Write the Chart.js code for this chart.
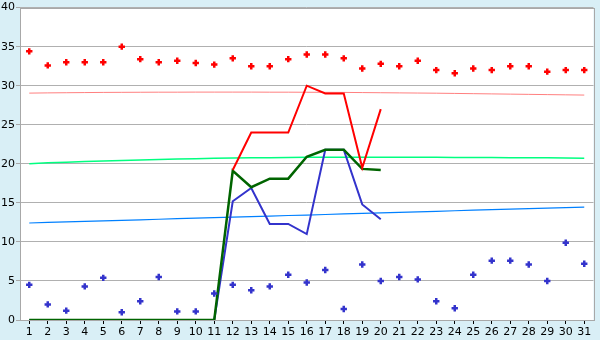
<!DOCTYPE html>
<html>
<head>
<meta charset="utf-8">
<script src="https://cdn.jsdelivr.net/npm/chart.js@4"></script>
<style>
  html, body { margin: 0; padding: 0; background: #d9eff6; }
  #wrap { width: 600px; height: 340px; }
</style>
</head>
<body>
<div id="wrap"><canvas id="chart" width="600" height="340"></canvas></div>
<script>
// ---------- data ----------
const days = ['1','2','3','4','5','6','7','8','9','10','11','12','13','14','15','16',
  '17','18','19','20','21','22','23','24','25','26','27','28','29','30','31'];

const maxPoints = [34.4, 32.6, 33.0, 33.0, 33.0, 35.0, 33.4, 33.0, 33.2, 32.9, 32.7, 33.5, 32.5, 32.5, 33.4, 34.0,
  34.0, 33.5, 32.2, 32.8, 32.5, 33.2, 32.0, 31.6, 32.2, 32.0, 32.5, 32.5, 31.8, 32.0, 32.0];

const minPoints = [4.5, 2.0, 1.2, 4.3, 5.4, 1.0, 2.4, 5.5, 1.1, 1.1, 3.4, 4.5, 3.8, 4.3, 5.8, 4.8,
  6.4, 1.4, 7.1, 5.0, 5.5, 5.2, 2.4, 1.5, 5.8, 7.6, 7.6, 7.1, 5.0, 9.9, 7.2];

const redLine = [null, null, null, null, null, null, null, null, null, null, null, 19.2, 24, 24, 24, 30,
  29, 29, 19.5, 27, null, null, null, null, null, null, null, null, null, null, null];

const greenLine = [0, 0, 0, 0, 0, 0, 0, 0, 0, 0, 0, 19.1, 17, 18.1, 18.1, 20.9,
  21.8, 21.8, 19.35, 19.2, null, null, null, null, null, null, null, null, null, null, null];

const blueLine = [0, 0, 0, 0, 0, 0, 0, 0, 0, 0, 0, 15.2, 16.9, 12.3, 12.3, 11.0,
  21.8, 21.8, 14.8, 12.9, null, null, null, null, null, null, null, null, null, null, null];

const maxTrend = [29.05, 29.08, 29.1, 29.12, 29.14, 29.15, 29.16, 29.17, 29.17, 29.18, 29.18, 29.18, 29.18, 29.17, 29.17, 29.16,
  29.15, 29.14, 29.12, 29.1, 29.08, 29.06, 29.04, 29.01, 28.98, 28.95, 28.92, 28.89, 28.86, 28.83, 28.8];

const midTrend = [20.02, 20.12, 20.2, 20.28, 20.36, 20.42, 20.48, 20.54, 20.6, 20.66, 20.7, 20.74, 20.77, 20.79, 20.81, 20.83,
  20.84, 20.85, 20.85, 20.85, 20.85, 20.84, 20.83, 20.82, 20.81, 20.8, 20.79, 20.78, 20.77, 20.75, 20.72];

const minTrend = [12.42, 12.49, 12.56, 12.63, 12.7, 12.76, 12.83, 12.9, 12.97, 13.04, 13.1, 13.17, 13.24, 13.31, 13.38, 13.44,
  13.51, 13.58, 13.65, 13.72, 13.78, 13.85, 13.92, 13.99, 14.06, 14.12, 14.19, 14.26, 14.33, 14.4, 14.46];

const yTicks = [0, 5, 10, 15, 20, 25, 30, 35, 40];

// white plot area + grey frame
const plotFrame = {
  id: 'plotFrame',
  beforeDraw(chart) {
    const { ctx, chartArea: a } = chart;
    ctx.save();
    ctx.fillStyle = '#ffffff';
    ctx.fillRect(a.left, a.top, a.right - a.left, a.bottom - a.top);
    ctx.restore();
  },
  afterDraw(chart) {
    const { ctx, chartArea: a } = chart;
    ctx.save();
    ctx.strokeStyle = '#a8a8a8';
    ctx.lineWidth = 1;
    ctx.strokeRect(Math.round(a.left) + 0.5, Math.round(a.top) + 0.5,
      Math.round(a.right - a.left), Math.round(a.bottom - a.top));
    ctx.restore();
  }
};

const lineDs = (data, color, width, order) => ({
  data, borderColor: color, backgroundColor: color, borderWidth: width,
  pointRadius: 0, tension: 0, fill: false, spanGaps: false, order
});

// small thick plus markers
const pointDs = (data, color, order) => ({
  data, showLine: false, borderColor: color, backgroundColor: color,
  pointStyle: 'cross', pointRadius: 3.2, pointBorderWidth: 2.5, order
});

new Chart(document.getElementById('chart'), {
  type: 'line',
  data: {
    labels: days,
    datasets: [
      pointDs(maxPoints, '#ff0000', 1),
      pointDs(minPoints, '#3333cc', 2),
      lineDs(redLine, '#ff0000', 2, 3),
      lineDs(greenLine, '#006400', 2.5, 4),
      lineDs(blueLine, '#3333cc', 2, 5),
      lineDs(maxTrend, '#ff8080', 1, 6),
      lineDs(midTrend, '#00ff80', 1.5, 7),
      lineDs(minTrend, '#0080ff', 1.2, 8)
    ]
  },
  options: {
    responsive: false,
    animation: false,
    layout: { padding: { top: 5, right: 5, left: 0, bottom: 0 } },
    plugins: { legend: { display: false }, tooltip: { enabled: false } },
    scales: {
      x: {
        offset: true,
        grid: { drawOnChartArea: false, drawTicks: true, tickLength: 4, tickColor: '#000000', offset: false },
        border: { display: false },
        ticks: { color: '#000000', font: { family: 'DejaVu Sans', size: 11 }, padding: 2,
          maxRotation: 0, autoSkip: false },
        afterFit(s) { s.height = 20; }
      },
      y: {
        min: 0, max: 40,
        afterBuildTicks(s) { s.ticks = yTicks.map(v => ({ value: v })); },
        grid: { color: '#b0b0b0', tickLength: 4, tickColor: '#a8a8a8' },
        border: { display: false },
        ticks: { color: '#000000', font: { family: 'DejaVu Sans', size: 11 }, padding: 1 },
        afterFit(s) { s.width = 20; }
      }
    }
  },
  plugins: [plotFrame]
});
</script>
</body>
</html>
